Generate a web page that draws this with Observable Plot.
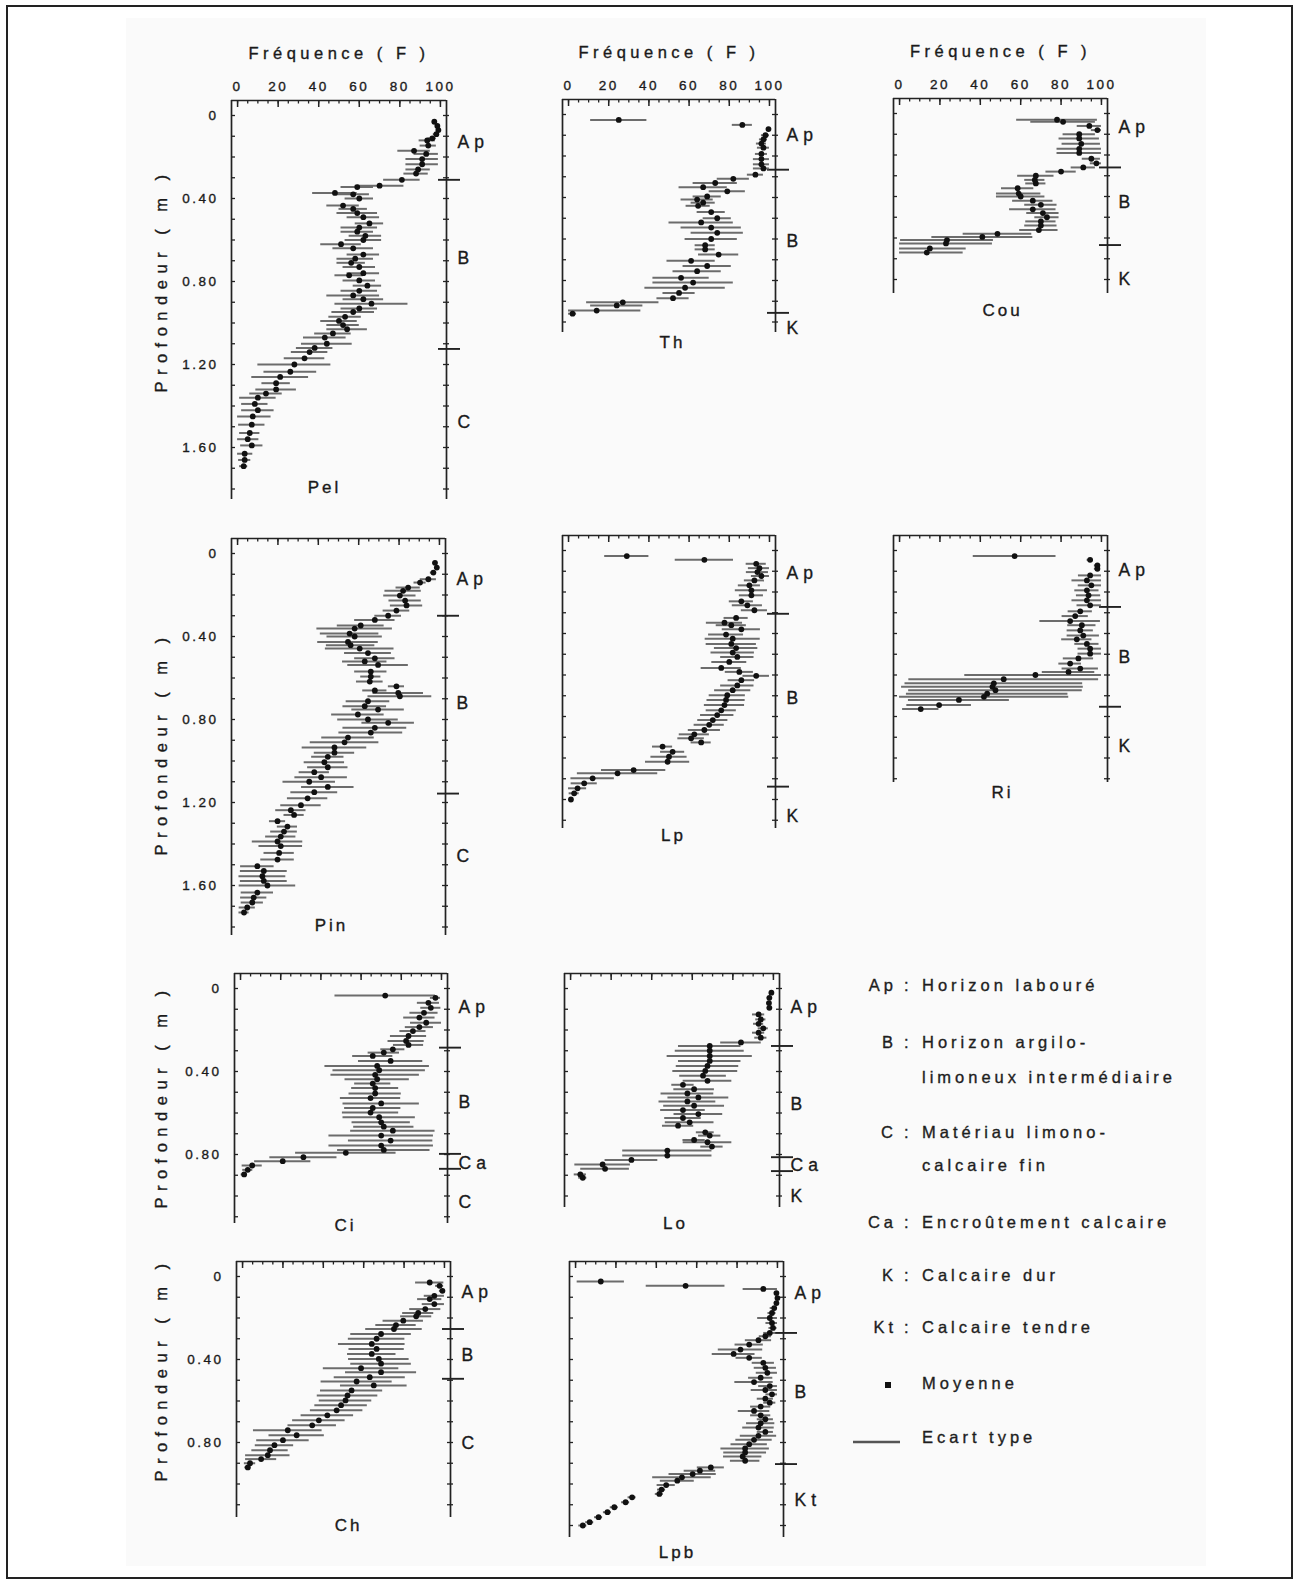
<!DOCTYPE html>
<html>
<head>
<meta charset="utf-8">
<script src="https://cdn.jsdelivr.net/npm/d3@7"></script>
<script src="https://cdn.jsdelivr.net/npm/@observablehq/plot@0.6"></script>
<style>
  html, body { margin: 0; padding: 0; background: #fff; }
  #page { position: relative; width: 1294px; height: 1580px; overflow: hidden;
          font-family: "Liberation Sans", Arial, sans-serif; color: #222; }
  #bg { position: absolute; left: 126px; top: 18px; width: 1080px; height: 1548px; background: #fafafa; }
  #border { position: absolute; left: 6px; top: 5px; width: 1287px; height: 1574px;
            border: 2px solid #222; box-sizing: border-box; }
  .panel { position: absolute; }
  .panel svg { overflow: visible; }
  .panel text { letter-spacing: 2.5px; fill: #1a1a1a; stroke: #1a1a1a; stroke-width: 0.35px; }
  g[aria-description="horizon"] text { letter-spacing: 5px; }
  g[aria-description="ytitle"] text { letter-spacing: 6.5px; }
  g[aria-description="xtitle"] text { letter-spacing: 4.5px; }
  g[aria-description="pname"] text { letter-spacing: 3px; }
  .lg { position: absolute; font-size: 16.5px; letter-spacing: 4px; color: #1e1e1e; white-space: nowrap;
        line-height: 20px; -webkit-text-stroke: 0.35px #1e1e1e; }
</style>
</head>
<body>
<div id="page">
  <div id="bg"></div>
  <div id="border"></div>
</div>
<script>
// ---------- data: [depth (m), mean frequency F, standard deviation] ----------
const pel = [[0.03,97,1],[0.05,98.5,1],[0.07,99,1],[0.09,98,1.5],[0.11,96,2],[0.12,93.5,4],[0.145,94,4],[0.17,87,8],[0.185,93,6],[0.21,91,8],[0.235,91,8],[0.26,89,6],[0.28,88,6],[0.31,81,9],[0.338,70,12],[0.345,59,8],[0.373,48,11],[0.38,57,8],[0.40,60,7],[0.434,52,8],[0.45,57,7],[0.47,59,10],[0.49,62,8],[0.52,65,7],[0.54,60,9],[0.56,59,8],[0.58,63,8],[0.60,62,9],[0.62,51,10],[0.64,57,10],[0.67,62,8],[0.69,58,9],[0.71,56,7],[0.73,60,8],[0.76,62,8],[0.77,55,7],[0.795,60,8],[0.82,64,7],[0.845,60,9],[0.867,57,13],[0.885,62,10],[0.907,66,18],[0.93,60,9],[0.947,57,10.5],[0.97,53,8],[0.99,50,9],[1.01,52,8],[1.03,54,10],[1.05,47,9],[1.07,43,10.5],[1.10,44,12.5],[1.12,38,9],[1.14,35.5,9],[1.17,33,10],[1.20,28,18],[1.235,26,13],[1.26,21,14],[1.29,19,7],[1.32,19,10],[1.34,14,8],[1.36,10,9],[1.39,8.5,6.5],[1.42,10,8],[1.45,7.5,9],[1.49,7,6.5],[1.53,6,5],[1.56,5,5.5],[1.59,7,5.5],[1.63,3.5,4],[1.66,3.5,3],[1.69,3,2]];
const th = [[0.026,25,14],[0.05,86.5,5],[0.07,99.5,1],[0.10,98,2],[0.12,97,2],[0.14,96,2.5],[0.16,97,3],[0.19,96,3],[0.215,96,4],[0.24,96,4],[0.26,97,5],[0.29,93,4],[0.31,82,8],[0.33,73,11],[0.35,67,12],[0.37,79,9],[0.395,69,7],[0.41,64,8],[0.425,67,6],[0.44,64.5,6],[0.47,71,7],[0.50,74,7],[0.52,66,16],[0.545,71,15],[0.57,74,13],[0.60,71,13],[0.63,68,5],[0.65,68,5],[0.675,74.7,10],[0.705,61,12],[0.73,69,12],[0.755,64,12],[0.787,56,14],[0.81,62,20],[0.835,58,20],[0.86,55,8],[0.885,52,8],[0.905,27,18],[0.92,24,13],[0.945,14,22],[0.96,2,2]];
const cou = [[0.03,78,20],[0.04,81,16],[0.06,94,6],[0.08,98,3],[0.10,89,8],[0.12,89,10],[0.146,90,9.5],[0.17,89,11],[0.19,89,11],[0.218,95,4.5],[0.24,97.5,3],[0.26,91,6],[0.28,80,7.5],[0.30,67.5,9],[0.32,67,5],[0.337,67.5,5],[0.36,58.5,8],[0.386,59,11],[0.40,60,12],[0.42,66,10],[0.44,70,8],[0.462,66,11.5],[0.48,71,8],[0.50,73,6],[0.52,70,7.5],[0.54,70,8],[0.562,69,9.5],[0.58,48.5,17],[0.595,41,25],[0.61,23.5,23],[0.626,23,23],[0.65,15,18],[0.67,13.5,18]];
const pin = [[0.045,97.8,1],[0.068,98.7,1],[0.092,97,1.5],[0.124,94.5,4],[0.14,90.4,3],[0.164,84.5,6],[0.18,82,9],[0.203,80.4,8],[0.227,83,8],[0.25,83.7,8],[0.275,78.7,6.6],[0.30,74.6,6.6],[0.32,68,10],[0.347,61,11.6],[0.362,58,18.7],[0.386,55.5,14.5],[0.40,58,13.7],[0.426,54.7,15],[0.442,56,12],[0.458,60.5,17],[0.48,64.6,11.6],[0.505,68,10],[0.52,63,11],[0.537,69.6,15],[0.569,66,8],[0.593,66,5],[0.617,65.5,6.6],[0.64,78.7,4],[0.66,68,6],[0.672,79.6,12.5],[0.688,80.4,15.8],[0.712,64.6,10.8],[0.736,63,10.8],[0.752,69.6,13],[0.776,59.6,13],[0.80,64.6,15],[0.816,74.6,13],[0.84,68,15.8],[0.863,66,15.8],[0.887,54.7,13],[0.91,53,17],[0.935,48,16],[0.96,48,10],[0.98,44.7,8],[1.006,43,10],[1.03,44.7,10],[1.054,38,7.5],[1.078,41.4,13],[1.10,35.5,13],[1.125,44.7,13],[1.15,38,11.6],[1.18,34.7,10],[1.213,31.4,10],[1.237,26.4,7.5],[1.26,28,5],[1.29,19.8,4],[1.316,24.7,5],[1.34,23,6.6],[1.364,21.4,7.5],[1.388,19.8,12.5],[1.41,21.4,10.8],[1.443,20.6,7.5],[1.475,19.8,8.3],[1.507,9.8,8.3],[1.53,13,11.6],[1.555,12.3,11.6],[1.578,13,11.6],[1.60,14.8,14],[1.634,9.8,8],[1.658,8,6.5],[1.682,7.3,5.5],[1.706,4.8,4],[1.73,3.2,2.5]];
const lp = [[0.027,29,11],[0.045,67.6,14.5],[0.064,93.4,5],[0.085,95,5.5],[0.104,94,5.5],[0.123,96,5],[0.144,92.5,5],[0.168,90,5.5],[0.192,91,8],[0.216,91,6],[0.245,86,6],[0.264,89,7.5],[0.288,92.5,6.5],[0.325,83.4,6],[0.348,77.6,9],[0.36,81,7.5],[0.38,86,9.5],[0.405,78.4,8.7],[0.425,81.7,13.7],[0.45,81,12.5],[0.47,83.4,10.8],[0.492,81.7,10.8],[0.513,84,8.3],[0.537,80,8.7],[0.566,76,10],[0.585,85,7],[0.604,93.4,6.6],[0.625,86,6.6],[0.65,84,8.3],[0.673,81.7,9],[0.697,79,9],[0.72,78.4,9.5],[0.745,77.6,10],[0.77,76,7.5],[0.793,74,8.3],[0.817,71.8,7.5],[0.84,70,7.5],[0.865,67.6,8],[0.886,62.6,7.5],[0.905,61,6.6],[0.925,66,5],[0.945,46.8,5],[0.97,51.8,6],[0.994,50,9],[1.018,49.3,11],[1.058,32.4,16],[1.074,24.4,20],[1.098,12,10.8],[1.122,7.8,6.5],[1.146,4.5,4.5],[1.17,2.8,2.5],[1.20,1.2,1]];
const ri = [[0.027,57,20.5],[0.045,94.4,1.5],[0.072,98,1.5],[0.088,98,1.5],[0.12,94.4,5.8],[0.144,92.8,7.4],[0.168,95,6.5],[0.192,92.8,6],[0.216,93.6,6],[0.24,92.8,7.4],[0.264,94.4,6.5],[0.293,89.5,6],[0.316,87,6.5],[0.34,84.5,15],[0.36,90.3,7],[0.385,89.5,6.5],[0.41,91,8],[0.428,87.8,7.5],[0.45,92.8,6],[0.473,94.4,6],[0.497,94.4,6],[0.52,88.6,7.5],[0.545,84.5,5.6],[0.569,89.5,9],[0.585,83.7,13],[0.60,67.3,35],[0.62,51.6,47],[0.64,46.7,44],[0.657,46,45],[0.673,47.5,43],[0.69,43.4,40],[0.705,41.8,42],[0.72,29.4,25],[0.745,19.6,16],[0.764,10.5,9]];
const ci = [[0.034,72,25],[0.045,97,2.5],[0.069,93.5,5.5],[0.093,94.7,5],[0.117,91.3,7],[0.14,89,7.8],[0.165,92.4,7.8],[0.186,89,7],[0.205,85.8,6.5],[0.229,83.6,9],[0.253,82.4,9],[0.272,83.6,7.5],[0.293,75.8,6],[0.309,71.3,7.8],[0.325,65.8,10],[0.349,74.7,16],[0.373,68,26],[0.394,69,23],[0.416,67,22],[0.437,68,16],[0.458,65.8,9],[0.48,67,11.7],[0.506,67,13],[0.528,64.7,15],[0.554,70,19],[0.576,65.8,14],[0.598,64.7,14],[0.62,69,18],[0.645,70,14.5],[0.666,71.3,15],[0.685,75.8,21],[0.709,70,26],[0.733,74.7,21],[0.757,70,26],[0.778,71.3,23],[0.792,52.4,25],[0.813,31.3,16.7],[0.832,21,14],[0.853,5.8,5],[0.874,3.6,2.5],[0.896,1.8,1.5]];
const lo = [[0.02,99,0.8],[0.045,98,1],[0.07,97.8,1],[0.093,98,1],[0.125,92.7,3],[0.149,93.8,2.5],[0.17,92.7,2.5],[0.192,95,2.5],[0.213,92.7,3],[0.237,93.8,3],[0.26,84,10],[0.277,68.6,15.4],[0.30,68.6,17],[0.325,68.6,21],[0.349,68.6,15.4],[0.373,67.5,15.4],[0.397,66.4,16],[0.42,65.3,11.5],[0.445,67.5,12],[0.464,55.4,5.5],[0.485,60.9,10],[0.506,57.6,13],[0.525,63,15],[0.544,57.6,14],[0.565,60.9,15],[0.586,55.4,11],[0.605,63,12],[0.624,55.4,9],[0.645,58.7,12],[0.661,53,7.7],[0.693,66.4,4.4],[0.709,68.6,5.5],[0.73,60.9,5.5],[0.741,67.5,12],[0.762,69.7,5.5],[0.781,47.7,22],[0.805,47.7,22],[0.826,30,13],[0.848,15.8,13.7],[0.869,17,12],[0.896,4.8,3],[0.912,6,2]];
const ch = [[0.029,92.7,7],[0.045,97.6,2],[0.069,99,1.5],[0.093,95,5],[0.109,92.7,6],[0.133,95,6],[0.157,90.5,7.7],[0.176,87,7.7],[0.192,86,7.7],[0.213,79.6,10],[0.234,76,10],[0.253,75,14],[0.277,68.6,15],[0.30,66.4,14],[0.325,64,16.5],[0.349,66.4,13.7],[0.373,64,12],[0.397,67.5,15],[0.42,68.6,15],[0.442,58.7,18.7],[0.461,68.6,17.6],[0.485,63,17.6],[0.506,56.5,17.6],[0.525,65,16.5],[0.549,54,15.4],[0.573,52,15],[0.597,51,13],[0.62,48.8,13],[0.645,46.6,13],[0.669,42,13],[0.693,37.8,13],[0.717,34.5,12],[0.741,22.4,17],[0.765,26.8,13.7],[0.789,20,13],[0.813,15.8,9.5],[0.837,13.6,9],[0.861,12.5,11],[0.88,9.2,7.7],[0.90,3.7,2.8],[0.92,2.6,1.5]];
const lpb = [[0.024,12.5,11.7],[0.045,54.5,19.5],[0.06,93,10],[0.08,99.5,1],[0.104,100,0.5],[0.128,99.5,1],[0.152,98.4,2],[0.176,97.3,2],[0.20,96.2,6],[0.224,97.3,3],[0.248,97.8,2],[0.272,96.2,3],[0.288,94,3],[0.307,90.6,6.5],[0.328,86,7],[0.352,81.7,11],[0.373,78.3,10.6],[0.392,86,6.5],[0.416,93,5.5],[0.44,94,5.5],[0.464,95,5.5],[0.488,91.7,6],[0.509,88.4,9.5],[0.528,96.2,5.5],[0.547,94,7],[0.568,97.3,3],[0.589,94,4],[0.608,96.2,3],[0.627,91.7,5],[0.648,88.4,7.8],[0.669,91.7,5],[0.688,94,4],[0.707,91.7,7],[0.728,90.6,7.8],[0.749,94,4],[0.768,90.6,9],[0.787,88.4,9],[0.808,86,9],[0.829,84,12],[0.848,84,10.6],[0.867,82.8,9.5],[0.888,84,7.3],[0.92,67,6.7],[0.936,61.6,7.8],[0.952,58,11.7],[0.968,52.7,14.5],[0.984,50.4,8.4],[1.005,44.9,4.5],[1.027,42.6,2],[1.048,41.5,2],[1.064,28,2],[1.088,24.8,2],[1.112,19.2,2],[1.136,15.8,2],[1.16,11.4,2],[1.184,7,2],[1.20,3.6,2]];

// horizon boundaries (m) and horizon labels [name, depth of label]
const pelBounds = [0.31, 1.125],        pelHorizons = [["Ap",0.13],["B",0.69],["C",1.48]];
const thBounds  = [0.266, 0.956],       thHorizons  = [["Ap",0.10],["B",0.61],["K",1.03]];
const couBounds = [0.26, 0.634],        couHorizons = [["Ap",0.066],["B",0.43],["K",0.80]];
const pinBounds = [0.30, 1.157],        pinHorizons = [["Ap",0.124],["B",0.72],["C",1.46]];
const lpBounds  = [0.305, 1.138],       lpHorizons  = [["Ap",0.112],["B",0.713],["K",1.28]];
const riBounds  = [0.272, 0.753],       riHorizons  = [["Ap",0.096],["B",0.513],["K",0.946]];
const ciBounds  = [0.285, 0.797, 0.869],ciHorizons  = [["Ap",0.093],["B",0.55],["Ca",0.845],["C",1.03]];
const loBounds  = [0.277, 0.813, 0.88], loHorizons  = [["Ap",0.093],["B",0.557],["Ca",0.853],["K",1.0]];
const chBounds  = [0.253, 0.493],       chHorizons  = [["Ap",0.077],["B",0.38],["C",0.805]];
const lpbBounds = [0.272, 0.904],       lpbHorizons = [["Ap",0.08],["B",0.56],["Kt",1.08]];

// tick labels
const freqLabels = [0, 20, 40, 60, 80, 100];
const depthLabels = [0, 0.4, 0.8, 1.2, 1.6];
const xTitle = "Fréquence ( F )";
const yTitle = "Profondeur ( m )";

// legend
const legendAbbr = ["Ap", "B", "", "C", "", "Ca", "K", "Kt"];
const legendText = ["Horizon labouré", "Horizon argilo-", "limoneux intermédiaire", "Matériau limono-", "calcaire fin", "Encroûtement calcaire", "Calcaire dur", "Calcaire tendre"];
const legendMean = "Moyenne";
const legendSd = "Ecart type";

// ---------- layout (page pixels) ----------
const panels = [
  {name:"Pel", data:pel, bounds:pelBounds, horizons:pelHorizons, left:231, right:446, top:100, bottom:499, nameX:324, nameY:487, xl:true,  yl:true,  yTitleY:280},
  {name:"Th",  data:th,  bounds:thBounds,  horizons:thHorizons,  left:562, right:775, top:99,  bottom:332, nameX:672, nameY:342, xl:true,  yl:false},
  {name:"Cou", data:cou, bounds:couBounds, horizons:couHorizons, left:893, right:1107,top:98,  bottom:293, nameX:1002,nameY:310, xl:true,  yl:false},
  {name:"Pin", data:pin, bounds:pinBounds, horizons:pinHorizons, left:231, right:445, top:538, bottom:935, nameX:331, nameY:925, xl:false, yl:true,  yTitleY:743},
  {name:"Lp",  data:lp,  bounds:lpBounds,  horizons:lpHorizons,  left:562, right:775, top:535, bottom:828, nameX:673, nameY:835, xl:false, yl:false},
  {name:"Ri",  data:ri,  bounds:riBounds,  horizons:riHorizons,  left:893, right:1107,top:535, bottom:782, nameX:1002,nameY:792, xl:false, yl:false},
  {name:"Ci",  data:ci,  bounds:ciBounds,  horizons:ciHorizons,  left:234, right:447, top:973, bottom:1223,nameX:345, nameY:1225,xl:false, yl:true,  yTitleY:1096},
  {name:"Lo",  data:lo,  bounds:loBounds,  horizons:loHorizons,  left:564, right:779, top:973, bottom:1207,nameX:675, nameY:1223,xl:false, yl:false},
  {name:"Ch",  data:ch,  bounds:chBounds,  horizons:chHorizons,  left:236, right:450, top:1261,bottom:1517,nameX:348, nameY:1525,xl:false, yl:true,  yTitleY:1369},
  {name:"Lpb", data:lpb, bounds:lpbBounds, horizons:lpbHorizons, left:569, right:783, top:1261,bottom:1537,nameX:677, nameY:1552,xl:false, yl:false}
];

const PXM = 207.5;          // pixels per metre of depth
const X0 = -3, X1 = 103;    // frequency domain spanned by the frame
const page = document.getElementById("page");

function drawPanel(p) {
  const ml = 90, mr = 70, mt = 70, mb = 34;
  const fw = p.right - p.left, fh = p.bottom - p.top;
  const yMin = -15 / PXM, yMax = (fh - 15) / PXM;
  const kx = (X1 - X0) / fw, ky = 1 / PXM;
  const depthTicks = d3.range(0, Math.floor(yMax * 10) + 1).map(i => i / 10).filter(d => d <= yMax);
  const freqMinor = d3.range(0, 101, 5);
  const rows = p.data.map(([depth, mean, sd]) => ({depth, mean, lo: Math.max(0, mean - sd), hi: Math.min(100, mean + sd)}));
  const ink = "#222";

  const marks = [
    // frame: top, left, right (no bottom line)
    Plot.ruleY([yMin], {x1: X0, x2: X1, stroke: ink, strokeWidth: 1.7}),
    Plot.ruleX([X0, X1], {y1: yMin, y2: yMax, stroke: ink, strokeWidth: 1.7}),
    // inward ticks
    Plot.ruleX(freqMinor, {y1: yMin, y2: yMin + 3.5 * ky, stroke: ink, strokeWidth: 1.3}),
    Plot.ruleX(freqLabels, {y1: yMin, y2: yMin + 7 * ky, stroke: ink, strokeWidth: 1.5}),
    Plot.ruleY(depthTicks, {x1: X0, x2: X0 + 4 * kx, stroke: ink, strokeWidth: 1.3}),
    Plot.ruleY(depthTicks, {x1: X1 - 3 * kx, x2: X1 + 3 * kx, stroke: ink, strokeWidth: 1.3}),
    // horizon boundaries
    Plot.ruleY(p.bounds, {x1: X1 - 8 * kx, x2: X1 + 14 * kx, stroke: ink, strokeWidth: 1.9}),
    // standard deviation bars and means
    Plot.ruleY(rows, {y: "depth", x1: "lo", x2: "hi", stroke: "#6c6c6c", strokeWidth: 2}),
    Plot.dot(rows, {x: "mean", y: "depth", r: 2.9, fill: "#111"}),
    // horizon names
    Plot.text(p.horizons, {x: X1, y: d => d[1], text: d => d[0], dx: 11, textAnchor: "start", fontSize: 17.5, ariaDescription: "horizon"}),
    // profile name
    Plot.text([p.name], {frameAnchor: "top-left", dx: p.nameX - p.left, dy: p.nameY - p.top, text: d => d,
      textAnchor: "middle", lineAnchor: "middle", fontSize: 17, ariaDescription: "pname"})
  ];
  if (p.xl) {
    marks.push(Plot.text(freqLabels, {x: d => d, y: yMin, dy: -14, text: d => String(d), fontSize: 13.5,
      lineAnchor: "middle", ariaDescription: "xticks"}));
    marks.push(Plot.text([xTitle], {frameAnchor: "top", dy: -47, text: d => d, textAnchor: "middle",
      lineAnchor: "middle", fontSize: 16.5, ariaDescription: "xtitle"}));
  }
  if (p.yl) {
    marks.push(Plot.text(depthLabels.filter(d => d <= yMax), {x: X0, y: d => d, dx: -13, textAnchor: "end",
      text: d => d === 0 ? "0" : d.toFixed(2), fontSize: 13.5, ariaDescription: "yticks"}));
    marks.push(Plot.text([yTitle], {frameAnchor: "top-left", dx: 161 - p.left, dy: p.yTitleY - p.top, rotate: -90,
      textAnchor: "middle", lineAnchor: "middle", text: d => d, fontSize: 16.5, ariaDescription: "ytitle"}));
  }

  const svg = Plot.plot({
    width: ml + fw + mr, height: mt + fh + mb,
    marginLeft: ml, marginRight: mr, marginTop: mt, marginBottom: mb,
    x: {domain: [X0, X1], range: [ml, ml + fw], axis: null},
    y: {domain: [yMin, yMax], range: [mt, mt + fh], axis: null},
    style: {background: "transparent", overflow: "visible", color: "#222",
            fontFamily: "'Liberation Sans', Arial, sans-serif"},
    marks
  });
  const div = document.createElement("div");
  div.className = "panel";
  div.style.left = (p.left - ml) + "px";
  div.style.top = (p.top - mt) + "px";
  div.appendChild(svg);
  page.appendChild(div);
}
panels.forEach(drawPanel);

// ---------- legend ----------
const legendY = [985, 1042, 1077, 1132, 1165, 1222, 1275, 1327];
function addText(txt, left, cy, align) {
  const d = document.createElement("div");
  d.className = "lg";
  d.textContent = txt;
  d.style.top = (cy - 10) + "px";
  if (align === "right") { d.style.right = (1294 - left) + "px"; d.style.textAlign = "right"; }
  else d.style.left = left + "px";
  page.appendChild(d);
  return d;
}
legendText.forEach((t, i) => {
  if (legendAbbr[i]) {
    addText(legendAbbr[i], 897, legendY[i], "right");
    addText(":", 904, legendY[i], "left");
  }
  addText(t, 922, legendY[i], "left");
});
addText(legendMean, 922, 1383, "left");
addText(legendSd, 922, 1437, "left");
const sym = document.createElementNS("http://www.w3.org/2000/svg", "svg");
sym.setAttribute("width", 70); sym.setAttribute("height", 80);
sym.style.position = "absolute"; sym.style.left = "845px"; sym.style.top = "1370px";
sym.innerHTML = '<rect x="40" y="12" width="6" height="6" fill="#111"/>' +
                '<line x1="8" y1="72" x2="55" y2="72" stroke="#555" stroke-width="2.5"/>';
page.appendChild(sym);
</script>
</body>
</html>
